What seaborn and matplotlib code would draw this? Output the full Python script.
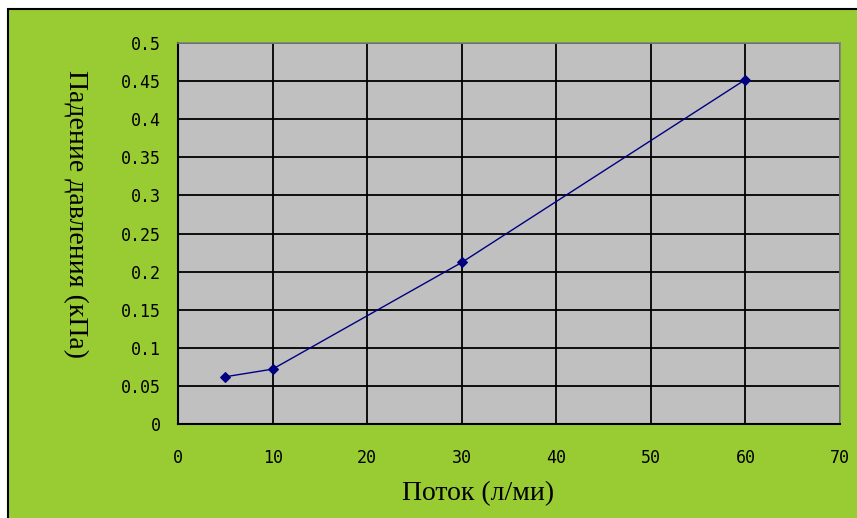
import matplotlib
matplotlib.use("Agg")
import matplotlib.pyplot as plt
import seaborn as sns
import pandas as pd
from matplotlib.patches import Rectangle

# данные графика
flow = [5, 10, 30, 60]
pressure_drop = [0.062, 0.072, 0.212, 0.452]
x_ticks = [0, 10, 20, 30, 40, 50, 60, 70]
y_ticks = [0, 0.05, 0.1, 0.15, 0.2, 0.25, 0.3, 0.35, 0.4, 0.45, 0.5]
y_tick_labels = ["0", "0.05", "0.1", "0.15", "0.2", "0.25", "0.3", "0.35", "0.4", "0.45", "0.5"]

df = pd.DataFrame({"flow": flow, "drop": pressure_drop})

sns.set_theme(style="white")
plt.rcParams["font.family"] = ["DejaVu Sans Mono", "DejaVu Sans"]

fig = plt.figure(figsize=(8.57, 5.18), dpi=100)
fig.patch.set_facecolor("white")

# зелёная подложка с чёрной рамкой сверху и слева
bg = Rectangle((8 / 857, -0.01), 1.0, 1 - 9 / 518 + 0.01, transform=fig.transFigure,
               facecolor="#99CC33", edgecolor="black", linewidth=1.5, zorder=-10)
fig.patches.append(bg)

ax = fig.add_axes([178 / 857, 1 - 424 / 518, 662 / 857, 381 / 518])
ax.set_zorder(1)
ax.set_facecolor("#C0C0C0")

sns.lineplot(data=df, x="flow", y="drop", ax=ax, color="#000080", linewidth=1.0,
             marker="D", markersize=5, markeredgecolor="#000080", zorder=3)

ax.set_xlim(0, 70)
ax.set_ylim(0, 0.5)
ax.set_xticks(x_ticks)
ax.set_yticks(y_ticks)
ax.set_yticklabels(y_tick_labels)
ax.grid(True, color="black", linewidth=1.3)
ax.set_axisbelow(True)

for side in ["left", "bottom"]:
    ax.spines[side].set_color("black")
    ax.spines[side].set_linewidth(1.5)
for side in ["top", "right"]:
    ax.spines[side].set_color("#808080")
    ax.spines[side].set_linewidth(1.2)

ax.tick_params(axis="both", labelsize=12, colors="black", length=0)
ax.tick_params(axis="x", pad=18)
ax.tick_params(axis="y", pad=12)

ax.set_xlabel("")
ax.set_ylabel("")
fig.text(478 / 857, 1 - 494 / 518, "Поток (л/ми)", family="Liberation Serif",
         fontsize=20, color="black", ha="center", va="center")
fig.text(75 / 857, 1 - 214 / 518, "Падение давления (кПа)", family="Liberation Serif",
         fontsize=20, color="black", ha="center", va="center", rotation=270)

fig.savefig("out.png", dpi=100, facecolor=fig.get_facecolor())
